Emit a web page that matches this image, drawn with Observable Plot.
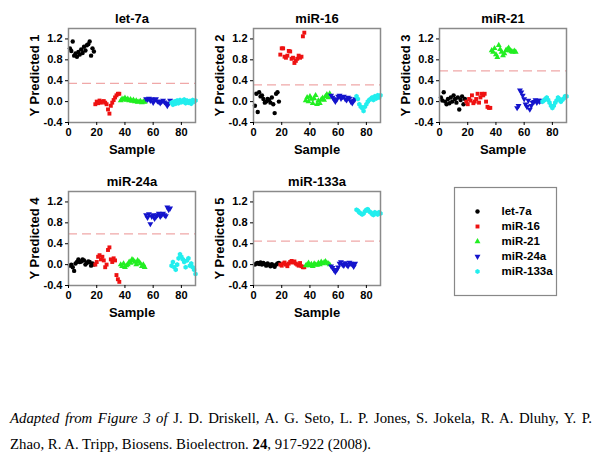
<!DOCTYPE html>
<html>
<head>
<meta charset="utf-8">
<script src="https://cdn.jsdelivr.net/npm/d3@7"></script>
<script src="https://cdn.jsdelivr.net/npm/@observablehq/plot@0.6"></script>
<style>
  body { margin: 0; background: #fff; }
  #root { position: relative; width: 600px; height: 468px; overflow: hidden; }
  .panel { position: absolute; }
  .cap { position: absolute; left: 10px; font-family: "Liberation Serif", "Times New Roman", serif; font-size: 14.8px; color: #000; white-space: nowrap; }
  .cap.just { width: 582px; white-space: normal; text-align: justify; text-align-last: justify; }
</style>
</head>
<body>
<div id="root"></div>
<script>
// ---- data ----
const groups = ["let-7a", "miR-16", "miR-21", "miR-24a", "miR-133a"];
const colors = ["#000000", "#ee1111", "#22ee22", "#1414cc", "#22eeee"];
const symbols = ["circle", "square", "triangle", "triangle", "hexagon"];
const rotations = [0, 0, 0, 180, 0];
const xTicks = [0, 20, 40, 60, 80];
const yTicks = [-0.4, 0.0, 0.4, 0.8, 1.2];
const panelTitles = ["let-7a", "miR-16", "miR-21", "miR-24a", "miR-133a"];
const yLabels = ["Y Predicted 1", "Y Predicted 2", "Y Predicted 3", "Y Predicted 4", "Y Predicted 5"];
const thresholds = [0.35, 0.32, 0.59, 0.59, 0.45];

// predicted values, 18 samples per group (samples 1-18, 19-36, 37-54, 55-72, 73-90)
const p1_let7a  = [1.02, 0.97, 1.15, 0.88, 0.92, 0.86, 0.95, 0.90, 1.00, 0.93, 1.05, 0.98, 1.08, 1.10, 1.15, 0.88, 1.02, 0.96];
const p1_miR16  = [-0.05, 0.00, -0.03, 0.02, -0.02, 0.00, 0.01, -0.02, -0.05, -0.15, -0.23, -0.08, -0.02, 0.03, 0.08, 0.12, 0.15, 0.15];
const p1_miR21  = [0.02, 0.05, 0.04, 0.07, 0.03, 0.05, 0.02, 0.04, 0.01, 0.03, 0.00, 0.02, -0.01, 0.00, 0.01, -0.02, 0.00, -0.01];
const p1_miR24a = [0.05, 0.04, 0.06, 0.02, 0.05, -0.02, 0.03, 0.05, 0.01, 0.00, -0.03, 0.00, 0.02, -0.01, -0.03, -0.08, -0.04, 0.02];
const p1_miR133a= [-0.02, -0.06, 0.00, -0.04, 0.02, -0.03, 0.03, -0.01, 0.00, 0.04, -0.03, 0.02, -0.02, 0.01, -0.04, 0.03, 0.00, 0.02];

const p2_let7a  = [-0.08, 0.15, -0.20, 0.18, 0.10, 0.12, 0.05, -0.02, 0.00, 0.05, 0.03, -0.02, 0.08, -0.05, -0.22, 0.15, 0.18, 0.00];
const p2_miR16  = [0.90, 1.02, 1.02, 0.86, 0.84, 0.88, 0.97, 0.96, 0.82, 0.84, 0.74, 0.78, 0.82, 0.88, 0.84, 0.86, 1.25, 1.32];
const p2_miR21  = [0.02, 0.08, 0.00, 0.10, 0.05, -0.03, 0.06, 0.12, -0.05, 0.02, -0.03, 0.04, 0.07, 0.03, 0.10, 0.14, 0.08, 0.15];
const p2_miR24a = [0.12, 0.08, 0.05, 0.00, 0.04, 0.10, 0.12, 0.06, 0.09, 0.10, 0.05, 0.03, 0.08, 0.06, 0.00, -0.03, 0.02, 0.05];
const p2_miR133a= [0.10, 0.05, -0.05, -0.10, -0.12, -0.18, -0.10, -0.05, 0.00, 0.03, 0.05, 0.08, 0.03, 0.10, 0.06, 0.12, 0.08, 0.12];

const p3_let7a  = [0.08, 0.02, 0.18, 0.00, -0.05, 0.05, -0.03, 0.08, 0.00, 0.12, 0.05, -0.02, 0.08, -0.15, 0.03, 0.10, -0.05, 0.05];
const p3_miR16  = [0.00, -0.05, 0.05, 0.02, 0.12, -0.03, 0.00, 0.05, 0.15, -0.02, 0.08, 0.15, 0.12, 0.15, 0.00, -0.10, -0.12, -0.12];
const p3_miR21  = [0.98, 0.95, 1.02, 0.90, 0.85, 1.08, 1.00, 0.95, 0.88, 0.92, 0.98, 1.00, 1.03, 0.98, 0.96, 0.95, 0.97, 0.95];
const p3_miR24a = [-0.12, -0.08, 0.22, 0.18, 0.12, 0.05, -0.05, -0.10, 0.02, -0.15, -0.08, -0.02, 0.00, 0.03, -0.02, 0.02, 0.00, 0.02];
const p3_miR133a= [0.00, 0.02, 0.05, 0.08, 0.03, -0.02, -0.08, -0.12, -0.08, -0.02, 0.02, 0.08, 0.05, 0.00, 0.03, 0.06, 0.10, 0.10];

const p4_let7a  = [-0.02, 0.00, -0.05, -0.12, 0.02, 0.05, 0.10, 0.05, 0.06, 0.10, 0.08, 0.00, 0.03, 0.06, 0.05, -0.02, 0.02, 0.00];
const p4_miR16  = [0.00, 0.05, 0.15, 0.18, 0.10, 0.15, 0.08, -0.05, 0.00, 0.28, 0.33, 0.10, 0.05, 0.12, 0.08, -0.20, -0.28, -0.33];
const p4_miR21  = [0.00, -0.03, 0.02, -0.05, -0.02, 0.00, 0.05, 0.03, 0.10, 0.08, 0.05, 0.00, 0.08, 0.05, 0.02, -0.03, 0.00, -0.05];
const p4_miR24a = [0.95, 0.90, 0.97, 0.78, 0.92, 0.95, 0.88, 0.92, 0.95, 0.98, 0.92, 0.95, 0.98, 0.95, 0.93, 1.10, 1.05, 1.08];
const p4_miR133a= [-0.02, 0.05, -0.05, -0.10, 0.00, 0.12, 0.20, 0.15, 0.10, 0.05, -0.05, 0.08, 0.12, -0.02, 0.02, -0.05, -0.10, -0.18];

const p5_let7a  = [0.00, 0.02, 0.03, 0.01, 0.04, 0.00, 0.03, 0.01, -0.02, 0.02, 0.00, -0.03, 0.01, -0.02, -0.04, 0.00, 0.02, 0.03];
const p5_miR16  = [0.00, -0.02, 0.02, 0.04, 0.00, -0.03, 0.02, 0.05, 0.07, 0.04, 0.06, 0.02, 0.00, -0.02, 0.03, -0.03, -0.05, -0.05];
const p5_miR21  = [-0.02, 0.00, 0.03, -0.02, 0.01, -0.03, 0.02, 0.00, -0.01, 0.03, 0.00, 0.05, 0.02, 0.04, 0.06, 0.03, 0.02, 0.00];
const p5_miR24a = [-0.03, -0.06, -0.10, -0.14, -0.10, -0.05, 0.02, 0.05, 0.00, -0.02, 0.03, 0.00, -0.03, 0.04, 0.02, 0.00, -0.04, 0.02];
const p5_miR133a= [1.05, 1.03, 1.00, 0.98, 0.96, 0.98, 1.02, 1.05, 1.06, 1.02, 1.00, 0.97, 0.95, 1.00, 0.98, 0.96, 1.00, 0.98];

const panelSeries = [
  [p1_let7a, p1_miR16, p1_miR21, p1_miR24a, p1_miR133a],
  [p2_let7a, p2_miR16, p2_miR21, p2_miR24a, p2_miR133a],
  [p3_let7a, p3_miR16, p3_miR21, p3_miR24a, p3_miR133a],
  [p4_let7a, p4_miR16, p4_miR21, p4_miR24a, p4_miR133a],
  [p5_let7a, p5_miR16, p5_miR21, p5_miR24a, p5_miR133a]
];

// ---- layout ----
const positions = [[0, 0], [185, 0], [371, 0], [0, 163], [185, 163]];
const root = document.getElementById("root");
const fontStyle = {fontFamily: "'Liberation Sans', Arial, sans-serif", fontWeight: "bold", fontSize: "11px", overflow: "visible", background: "transparent"};
const fmt = d => d.toFixed(1);

panelSeries.forEach((series, pi) => {
  const data = [];
  series.forEach((vals, gi) => vals.forEach((v, k) => data.push({sample: gi * 18 + k + 1, value: v, group: groups[gi], rot: rotations[gi]})));
  const chart = Plot.plot({
    width: 200, height: 160,
    marginLeft: 68, marginRight: 5, marginTop: 28, marginBottom: 38,
    style: fontStyle,
    x: {domain: [0, 90]},
    y: {domain: [-0.4, 1.4]},
    color: {domain: groups, range: colors},
    symbol: {domain: groups, range: symbols},
    marks: [
      Plot.ruleY([thresholds[pi]], {stroke: "#f0a8a8", strokeWidth: 1.3, strokeDasharray: "9,5"}),
      Plot.dot(data, {x: "sample", y: "value", fill: "group", symbol: "group", rotate: "rot", r: 2.2, stroke: "none"}),
      Plot.frame({stroke: "#8a8a8a", strokeWidth: 1.5}),
      Plot.axisX({ticks: xTicks, tickSize: 3, tickPadding: 3, fontSize: 11, label: "Sample", labelAnchor: "center", labelArrow: "none", labelOffset: 31}),
      Plot.axisY({ticks: yTicks, tickSize: 3, tickPadding: 3, tickFormat: fmt, label: yLabels[pi], labelAnchor: "center", labelArrow: "none", labelOffset: 39}),
      Plot.text([panelTitles[pi]], {text: d => d, frameAnchor: "top", dy: -15, fontSize: 13, fontWeight: "bold"})
    ]
  });
  chart.classList.add("panel");
  chart.style.left = positions[pi][0] + "px";
  chart.style.top = positions[pi][1] + "px";
  chart.querySelectorAll("[aria-label='x-axis label'] text, [aria-label='y-axis label'] text").forEach(t => t.setAttribute("font-size", "13"));
  root.appendChild(chart);
});

// ---- legend ----
const legend = Plot.plot({
  width: 102, height: 108,
  margin: 0,
  style: fontStyle,
  y: {domain: groups, range: [16, 92], type: "point", axis: null},
  color: {domain: groups, range: colors},
  symbol: {domain: groups, range: symbols},
  marks: [
    Plot.frame({stroke: "#888", strokeWidth: 1.2}),
    Plot.dot(groups, {y: d => d, fill: d => d, symbol: d => d, rotate: (d, i) => rotations[i], r: 2.2, frameAnchor: "left", dx: 23}),
    Plot.text(groups, {y: d => d, text: d => d, frameAnchor: "left", dx: 47, textAnchor: "start", fontSize: 11.5, fontWeight: "bold"})
  ]
});
legend.classList.add("panel");
legend.style.left = "454px";
legend.style.top = "187px";
root.appendChild(legend);

// ---- caption ----
const cap1 = document.createElement("div");
cap1.className = "cap just";
cap1.style.top = "410px";
cap1.innerHTML = "<i>Adapted from Figure 3 of</i> J. D. Driskell, A. G. Seto, L. P. Jones, S. Jokela, R. A. Dluhy, Y. P.";
root.appendChild(cap1);
const cap2 = document.createElement("div");
cap2.className = "cap";
cap2.style.top = "436px";
cap2.innerHTML = "Zhao, R. A. Tripp, Biosens. Bioelectron. <b>24</b>, 917-922 (2008).";
root.appendChild(cap2);
</script>
</body>
</html>
